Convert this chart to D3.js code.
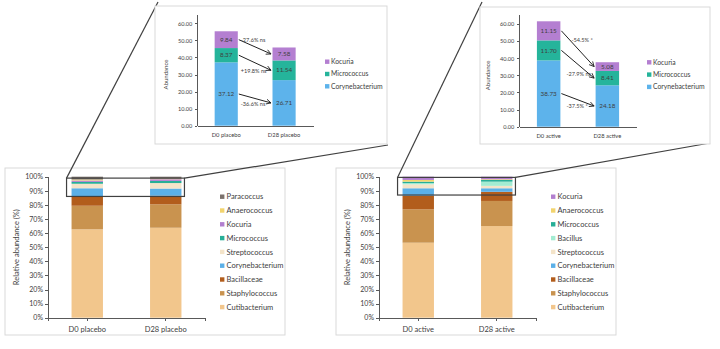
<html><head>
<meta charset="utf-8">
<script src="https://cdn.jsdelivr.net/npm/d3@7"></script>
<style>
body{
  margin: 0px;
  background: #ffffff;
}
text {
  font-family: Lato, "Open Sans", sans-serif;
  fill: #404040;
}
.panel {
  fill: #fff;
  stroke: #d9d9d9;
  stroke-width: 1px;
}
.axis path, .axis line {
  stroke: #595959;
  stroke-width: 1px;
  shape-rendering: crispEdges;
}
.link {
  stroke: #404040;
  stroke-width: 1.2px;
  fill: none;
}
</style>
<title>Skin microbiota</title>
</head>
<body>
<script>
// ---- data ----
var placeboCats = ["D0 placebo", "D28 placebo"];
var activeCats = ["D0 active", "D28 active"];

// stacked from bottom to top
var placeboTaxa = ["Cutibacterium","Staphylococcus","Bacillaceae","Corynebacterium","Streptococcus","Micrococcus","Kocuria","Anaerococcus","Paracoccus"];
var placeboD0  = [62.7, 16.7, 6.4, 6.0, 3.2, 1.3, 1.0, 0.7, 2.0];
var placeboD28 = [63.8, 16.6, 6.1, 5.1, 3.9, 1.5, 1.2, 0.5, 1.3];

var activeTaxa = ["Cutibacterium","Staphylococcus","Bacillaceae","Corynebacterium","Streptococcus","Bacillus","Micrococcus","Anaerococcus","Kocuria"];
var activeD0  = [53.2, 23.7, 9.6, 5.3, 2.8, 0.9, 1.0, 1.2, 2.3];
var activeD28 = [65.0, 17.8, 6.5, 2.5, 1.7, 3.0, 1.2, 0.5, 1.8];

var insetTaxa = ["Corynebacterium","Micrococcus","Kocuria"];
var placeboInsetD0  = [37.12, 8.37, 9.84];
var placeboInsetD28 = [26.71, 11.54, 7.58];
var placeboChange = ["-36.6% ns", "+19.8% ns", "-27.6% ns"];
var activeInsetD0  = [38.73, 11.70, 11.15];
var activeInsetD28 = [24.18, 8.41, 5.08];
var activeChange = ["-37.5% *", "-27.9% ns", "-54.5% *"];

var pctTicks = [0,10,20,30,40,50,60,70,80,90,100];
var absTicks = [0,10,20,30,40,50,60];

var colors = {
  "Cutibacterium": "#f2c68c",
  "Staphylococcus": "#c9934f",
  "Bacillaceae": "#b25d1c",
  "Corynebacterium": "#5bb0e8",
  "Streptococcus": "#f4e4c9",
  "Anaerococcus": "#f2d46e",
  "Micrococcus": "#27ae97",
  "Kocuria": "#b27fcf",
  "Paracoccus": "#7b716c",
  "Bacillus": "#a3ecd2"
};

var width = 720, height = 349;
var svg = d3.select("body").append("svg")
  .attr("width", width).attr("height", height);

svg.append("defs").append("marker")
  .attr("id", "arr")
  .attr("viewBox", "0 0 10 10")
  .attr("refX", 9).attr("refY", 5)
  .attr("markerWidth", 6).attr("markerHeight", 6)
  .attr("orient", "auto")
  .append("path")
  .attr("d", "M1,1 L9,5 L1,9")
  .attr("fill", "none").attr("stroke", "#222").attr("stroke-width", 1.4);

function stackRows(taxa, vals) {
  var acc = 0;
  return taxa.map(function(t, i){
    var r = {taxon: t, y0: acc, y1: acc + vals[i], v: vals[i]};
    acc += vals[i];
    return r;
  });
}

// ---- bottom stacked 100% charts ----
function stackPanel(o) {
  svg.append("rect").attr("class","panel")
    .attr("x", o.px).attr("y", 168).attr("width", 280).attr("height", 167);

  var y = d3.scaleLinear().domain([0,100]).range([317.7, 176.7]);
  var x = d3.scaleBand().domain(o.cats).range([o.ax, o.ax + 157])
    .paddingInner(0.6).paddingOuter(0.3);
  var g = svg.append("g");

  o.series.forEach(function(vals, ci){
    g.selectAll(null).data(stackRows(o.taxa, vals)).enter()
      .append("rect")
      .attr("x", x(o.cats[ci]))
      .attr("width", x.bandwidth())
      .attr("y", function(d){ return y(d.y1); })
      .attr("height", function(d){ return y(d.y0) - y(d.y1); })
      .attr("fill", function(d){ return colors[d.taxon]; });
  });

  var ya = svg.append("g").attr("class","axis")
    .attr("transform", "translate(" + o.ax + ",0)")
    .call(d3.axisLeft(y).tickValues(pctTicks).tickSize(3).tickSizeOuter(0)
      .tickFormat(function(d){ return d + "%"; }));
  ya.selectAll("text").attr("font-size", 7).attr("fill", "#404040").attr("x", -5);

  var xa = svg.append("g").attr("class","axis")
    .attr("transform", "translate(0," + y(0) + ")")
    .call(d3.axisBottom(x).tickSize(3).tickSizeOuter(3));
  xa.selectAll("text").attr("font-size", 7.5).attr("fill", "#404040").attr("dy", "1.1em");

  svg.append("text")
    .attr("transform", "translate(" + (o.ax - 29) + "," + y(50) + ") rotate(-90)")
    .attr("text-anchor", "middle").attr("font-size", 7.5)
    .text("Relative abundance (%)");

  // legend, top item is last of stack
  var leg = o.taxa.slice().reverse();
  var lg = svg.selectAll(null).data(leg).enter().append("g")
    .attr("transform", function(d, i){ return "translate(" + o.lx + "," + (196.7 + i * 13.8) + ")"; });
  lg.append("rect").attr("x", 0).attr("y", -2.2).attr("width", 4.4).attr("height", 4.4)
    .attr("fill", function(d){ return colors[d]; });
  lg.append("text").attr("x", 6.5).attr("dy", "0.35em").attr("font-size", 7.5)
    .attr("fill", "#595959").text(function(d){ return d; });

  // zoom box
  var bx0 = x(o.cats[0]) - 5, bx1 = x(o.cats[1]) + x.bandwidth() + 3;
  var by0 = y(o.boxTop), by1 = y(o.boxBottom);
  svg.append("rect").attr("x", bx0).attr("y", by0)
    .attr("width", bx1 - bx0).attr("height", by1 - by0)
    .attr("fill", "none").attr("stroke", "#404040").attr("stroke-width", 1.2);
  svg.append("line").attr("class","link")
    .attr("x1", bx0).attr("y1", by0).attr("x2", o.c1[0]).attr("y2", o.c1[1]);
  svg.append("line").attr("class","link")
    .attr("x1", bx1).attr("y1", by0).attr("x2", o.c2[0]).attr("y2", o.c2[1]);
}

// ---- top inset charts ----
function insetPanel(o) {
  svg.append("rect").attr("class","panel")
    .attr("x", o.px).attr("y", o.py).attr("width", o.pw).attr("height", o.ph);

  var y = d3.scaleLinear().domain([0,60]).range([o.y0, o.y60]);
  var x = d3.scaleBand().domain(o.cats).range([o.ax, o.ax + o.aw])
    .paddingInner(0.6).paddingOuter(0.3);
  var insetColors = {"Corynebacterium": "#5db3eb", "Micrococcus": "#25b49b", "Kocuria": "#b47fd1"};

  var stacks = [stackRows(insetTaxa, o.d0), stackRows(insetTaxa, o.d28)];
  stacks.forEach(function(rows, ci){
    var g = svg.append("g");
    g.selectAll("rect").data(rows).enter().append("rect")
      .attr("x", x(o.cats[ci])).attr("width", x.bandwidth())
      .attr("y", function(d){ return y(d.y1); })
      .attr("height", function(d){ return y(d.y0) - y(d.y1); })
      .attr("fill", function(d){ return insetColors[d.taxon]; });
    g.selectAll("text").data(rows).enter().append("text")
      .attr("x", x(o.cats[ci]) + x.bandwidth() / 2)
      .attr("y", function(d){ return y((d.y0 + d.y1) / 2); })
      .attr("dy", "0.35em").attr("text-anchor", "middle")
      .attr("font-size", 6.3).attr("fill", "#333")
      .text(function(d){ return d.v.toFixed(2); });
  });

  var ya = svg.append("g").attr("class","axis")
    .attr("transform", "translate(" + o.ax + ",0)")
    .call(d3.axisLeft(y).tickValues(absTicks).tickSize(2.5).tickSizeOuter(0)
      .tickFormat(d3.format(".2f")));
  ya.select(".domain").attr("d", "M0," + y(0) + "V" + y(65));
  ya.selectAll("text").attr("font-size", 5.6).attr("x", -5);

  var xa = svg.append("g").attr("class","axis")
    .attr("transform", "translate(0," + y(0) + ")")
    .call(d3.axisBottom(x).tickSize(0).tickSizeOuter(0));
  xa.selectAll("text").attr("font-size", 5.8).attr("dy", "1.4em");

  svg.append("text")
    .attr("transform", "translate(" + (o.ax - 29) + "," + y(30) + ") rotate(-90)")
    .attr("text-anchor", "middle").attr("font-size", 6)
    .text("Abundance");

  var leg = insetTaxa.slice().reverse();
  var lg = svg.selectAll(null).data(leg).enter().append("g")
    .attr("transform", function(d, i){ return "translate(" + o.lx + "," + (o.ly + i * 12.3) + ")"; });
  lg.append("rect").attr("x", 0).attr("y", -2.2).attr("width", 4.4).attr("height", 4.4)
    .attr("fill", function(d){ return insetColors[d]; });
  lg.append("text").attr("x", 6).attr("dy", "0.35em").attr("font-size", 6.8)
    .attr("fill", "#404040").text(function(d){ return d; });

  // arrows between segment middles
  var xs = x(o.cats[0]) + x.bandwidth() + 1, xe = x(o.cats[1]) - 1.5;
  stacks[0].forEach(function(r, i){
    var ys = y((r.y0 + r.y1) / 2), ye = y((stacks[1][i].y0 + stacks[1][i].y1) / 2);
    svg.append("line")
      .attr("x1", xs).attr("y1", ys).attr("x2", xe).attr("y2", ye)
      .attr("stroke", "#222").attr("stroke-width", 1)
      .attr("marker-end", "url(#arr)");
    var p = o.labelPos[i];
    svg.append("text")
      .attr("x", xs + p[0])
      .attr("y", (p[2] === "start" ? ys : ye) + p[1])
      .attr("dy", "0.35em").attr("font-size", 5.6).attr("fill", "#333")
      .text(o.change[i]);
  });
}

stackPanel({px: 5, ax: 48, lx: 220, cats: placeboCats, taxa: placeboTaxa,
  series: [placeboD0, placeboD28], boxTop: 99.0, boxBottom: 86.0,
  c1: [158, 2], c2: [388, 145]});
stackPanel({px: 336, ax: 379, lx: 551, cats: activeCats, taxa: activeTaxa,
  series: [activeD0, activeD28], boxTop: 99.5, boxBottom: 87.0,
  c1: [482, 2], c2: [710, 143]});

insetPanel({px: 155, py: 6, pw: 232, ph: 138, ax: 197.3, aw: 115.7,
  y0: 125.7, y60: 23.3, lx: 325, ly: 61.7, cats: placeboCats,
  d0: placeboInsetD0, d28: placeboInsetD28, change: placeboChange,
  labelPos: [[2, 1.5, "end"], [2, 0.5, "end"], [2, 0, "start"]]});
insetPanel({px: 480, py: 7, pw: 230, ph: 137, ax: 519.3, aw: 117.4,
  y0: 126.7, y60: 24, lx: 647, ly: 62.3, cats: activeCats,
  d0: activeInsetD0, d28: activeInsetD28, change: activeChange,
  labelPos: [[5, 0, "end"], [5, -4, "end"], [10, 9, "start"]]});
</script>
</body></html>
